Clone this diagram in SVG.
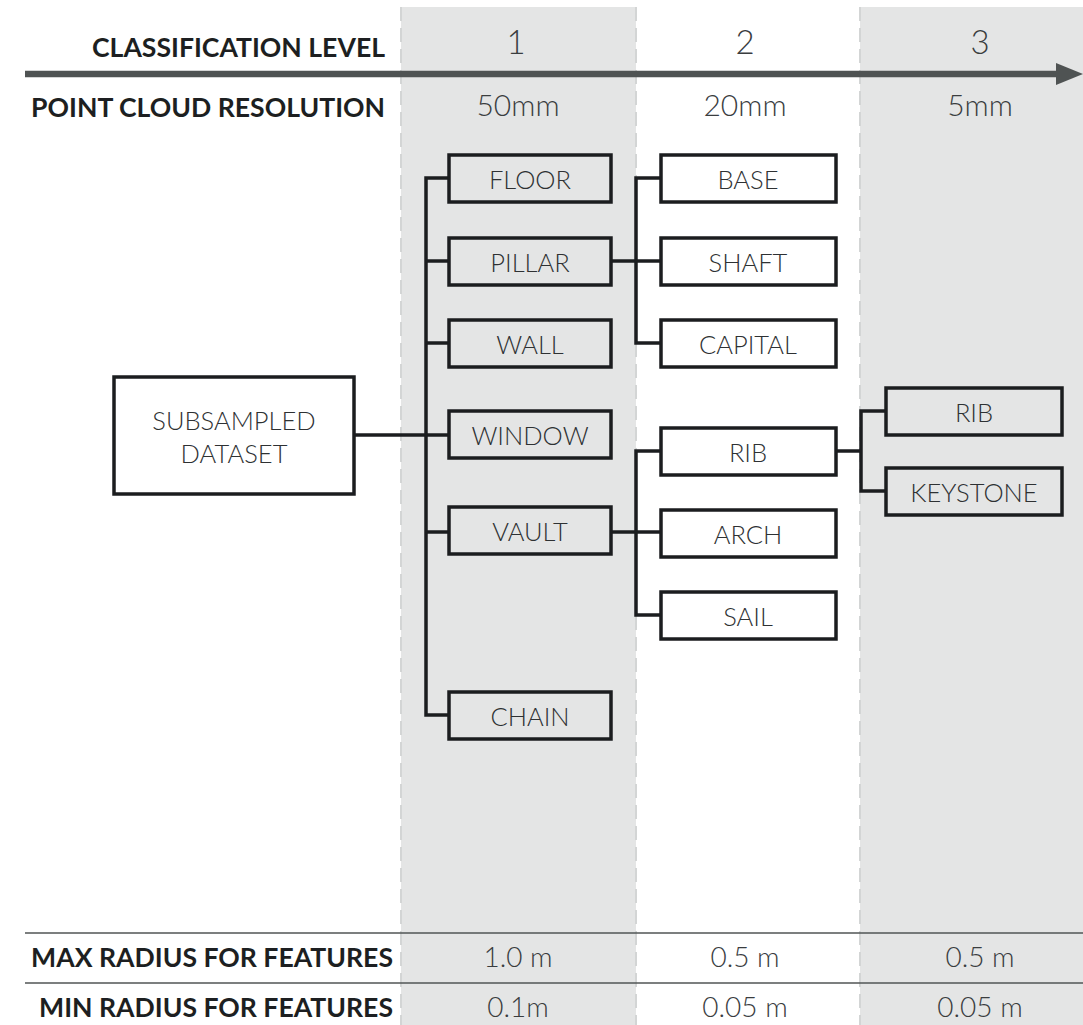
<svg xmlns="http://www.w3.org/2000/svg" width="1083" height="1025" viewBox="0 0 1083 1025">
<style>
.col{fill:#e4e5e5}
.sep{stroke:#d3d5d5;stroke-width:2;stroke-dasharray:14 7;fill:none}
.hdr{font-family:Lato,"Open Sans","Liberation Sans",sans-serif;font-weight:700;font-size:26.6px;fill:#1d1f21;text-anchor:end}
.val{font-family:Lato,"Open Sans","Liberation Sans",sans-serif;font-weight:300;font-size:30px;fill:#3a3d3f;text-anchor:middle}
.val2{font-family:Lato,"Open Sans","Liberation Sans",sans-serif;font-weight:300;font-size:28px;fill:#3a3d3f;text-anchor:middle}
.lvl{font-family:Lato,"Open Sans","Liberation Sans",sans-serif;font-weight:300;font-size:33px;fill:#3a3d3f;text-anchor:middle}
.box{stroke:#1b1d1f;stroke-width:3.5}
.g{fill:#e4e5e5}
.w{fill:#ffffff}
.lbl{font-family:Lato,"Open Sans","Liberation Sans",sans-serif;font-weight:300;font-size:25.5px;fill:#2e3133;text-anchor:middle}
.con{stroke:#1b1d1f;stroke-width:3.5;fill:none;stroke-linejoin:miter}
.rule{stroke:#505454;stroke-width:1.5}
</style>
<rect width="1083" height="1025" fill="#ffffff"/>
<g id="columns">
<rect class="col" x="401" y="7" width="235" height="1018"/>
<rect class="col" x="860" y="7" width="223" height="1018"/>
<line class="sep" x1="401" y1="7" x2="401" y2="1025"/>
<line class="sep" x1="636" y1="7" x2="636" y2="1025"/>
<line class="sep" x1="860" y1="7" x2="860" y2="1025"/>
</g>
<g id="axis">
<line x1="25" y1="74" x2="1060" y2="74" stroke="#4f5353" stroke-width="6.5"/>
<polygon points="1056,63 1083,74 1056,85" fill="#4f5353"/>
<text class="hdr" x="385" y="57">CLASSIFICATION LEVEL</text>
<text class="hdr" x="385" y="117">POINT CLOUD RESOLUTION</text>
<text class="lvl" x="516" y="54">1</text>
<text class="lvl" x="745" y="54">2</text>
<text class="lvl" x="980" y="54">3</text>
<text class="val" x="518" y="116">50mm</text>
<text class="val" x="745" y="116">20mm</text>
<text class="val" x="980" y="116">5mm</text>
</g>
<g id="connectors">
<polyline class="con" points="354,435 449,435"/>
<polyline class="con" points="449,178 426,178 426,715 449,715"/>
<line class="con" x1="426" y1="261" x2="449" y2="261"/>
<line class="con" x1="426" y1="343" x2="449" y2="343"/>
<line class="con" x1="426" y1="532" x2="449" y2="532"/>
<polyline class="con" points="661,178 636,178 636,343 661,343"/>
<line class="con" x1="611" y1="261" x2="661" y2="261"/>
<polyline class="con" points="661,451 636,451 636,615 661,615"/>
<line class="con" x1="611" y1="532" x2="661" y2="532"/>
<polyline class="con" points="886,411 861,411 861,491 886,491"/>
<line class="con" x1="836" y1="451" x2="861" y2="451"/>
</g>
<g id="n-subsampled"><rect class="box w" x="114" y="377" width="240" height="117"/><text class="lbl" x="234" y="430">SUBSAMPLED</text><text class="lbl" x="234" y="463">DATASET</text></g>
<g id="n-floor"><rect class="box g" x="449" y="155" width="162" height="47"/><text class="lbl" x="530" y="189">FLOOR</text></g>
<g id="n-pillar"><rect class="box g" x="449" y="238" width="162" height="47"/><text class="lbl" x="530" y="272">PILLAR</text></g>
<g id="n-wall"><rect class="box g" x="449" y="320" width="162" height="47"/><text class="lbl" x="530" y="354">WALL</text></g>
<g id="n-window"><rect class="box g" x="449" y="411" width="162" height="47"/><text class="lbl" x="530" y="445">WINDOW</text></g>
<g id="n-vault"><rect class="box g" x="449" y="507" width="162" height="47"/><text class="lbl" x="530" y="541">VAULT</text></g>
<g id="n-chain"><rect class="box g" x="449" y="692" width="162" height="47"/><text class="lbl" x="530" y="726">CHAIN</text></g>
<g id="n-base"><rect class="box w" x="661" y="155" width="175" height="47"/><text class="lbl" x="748" y="189">BASE</text></g>
<g id="n-shaft"><rect class="box w" x="661" y="238" width="175" height="47"/><text class="lbl" x="748" y="272">SHAFT</text></g>
<g id="n-capital"><rect class="box w" x="661" y="320" width="175" height="47"/><text class="lbl" x="748" y="354">CAPITAL</text></g>
<g id="n-rib2"><rect class="box w" x="661" y="428" width="175" height="47"/><text class="lbl" x="748" y="462">RIB</text></g>
<g id="n-arch"><rect class="box w" x="661" y="510" width="175" height="47"/><text class="lbl" x="748" y="544">ARCH</text></g>
<g id="n-sail"><rect class="box w" x="661" y="592" width="175" height="47"/><text class="lbl" x="748" y="626">SAIL</text></g>
<g id="n-rib3"><rect class="box g" x="886" y="388" width="176" height="47"/><text class="lbl" x="974" y="422">RIB</text></g>
<g id="n-keystone"><rect class="box g" x="886" y="468" width="176" height="47"/><text class="lbl" x="974" y="502">KEYSTONE</text></g>
<g id="table">
<line class="rule" x1="25" y1="933" x2="1083" y2="933"/>
<line class="rule" x1="25" y1="983" x2="1083" y2="983"/>
<text class="hdr" x="393" y="967">MAX RADIUS FOR FEATURES</text>
<text class="hdr" x="393" y="1017">MIN RADIUS FOR FEATURES</text>
<text class="val2" x="518" y="967">1.0 m</text>
<text class="val2" x="745" y="967">0.5 m</text>
<text class="val2" x="980" y="967">0.5 m</text>
<text class="val2" x="518" y="1017">0.1m</text>
<text class="val2" x="745" y="1017">0.05 m</text>
<text class="val2" x="980" y="1017">0.05 m</text>
</g>
</svg>
